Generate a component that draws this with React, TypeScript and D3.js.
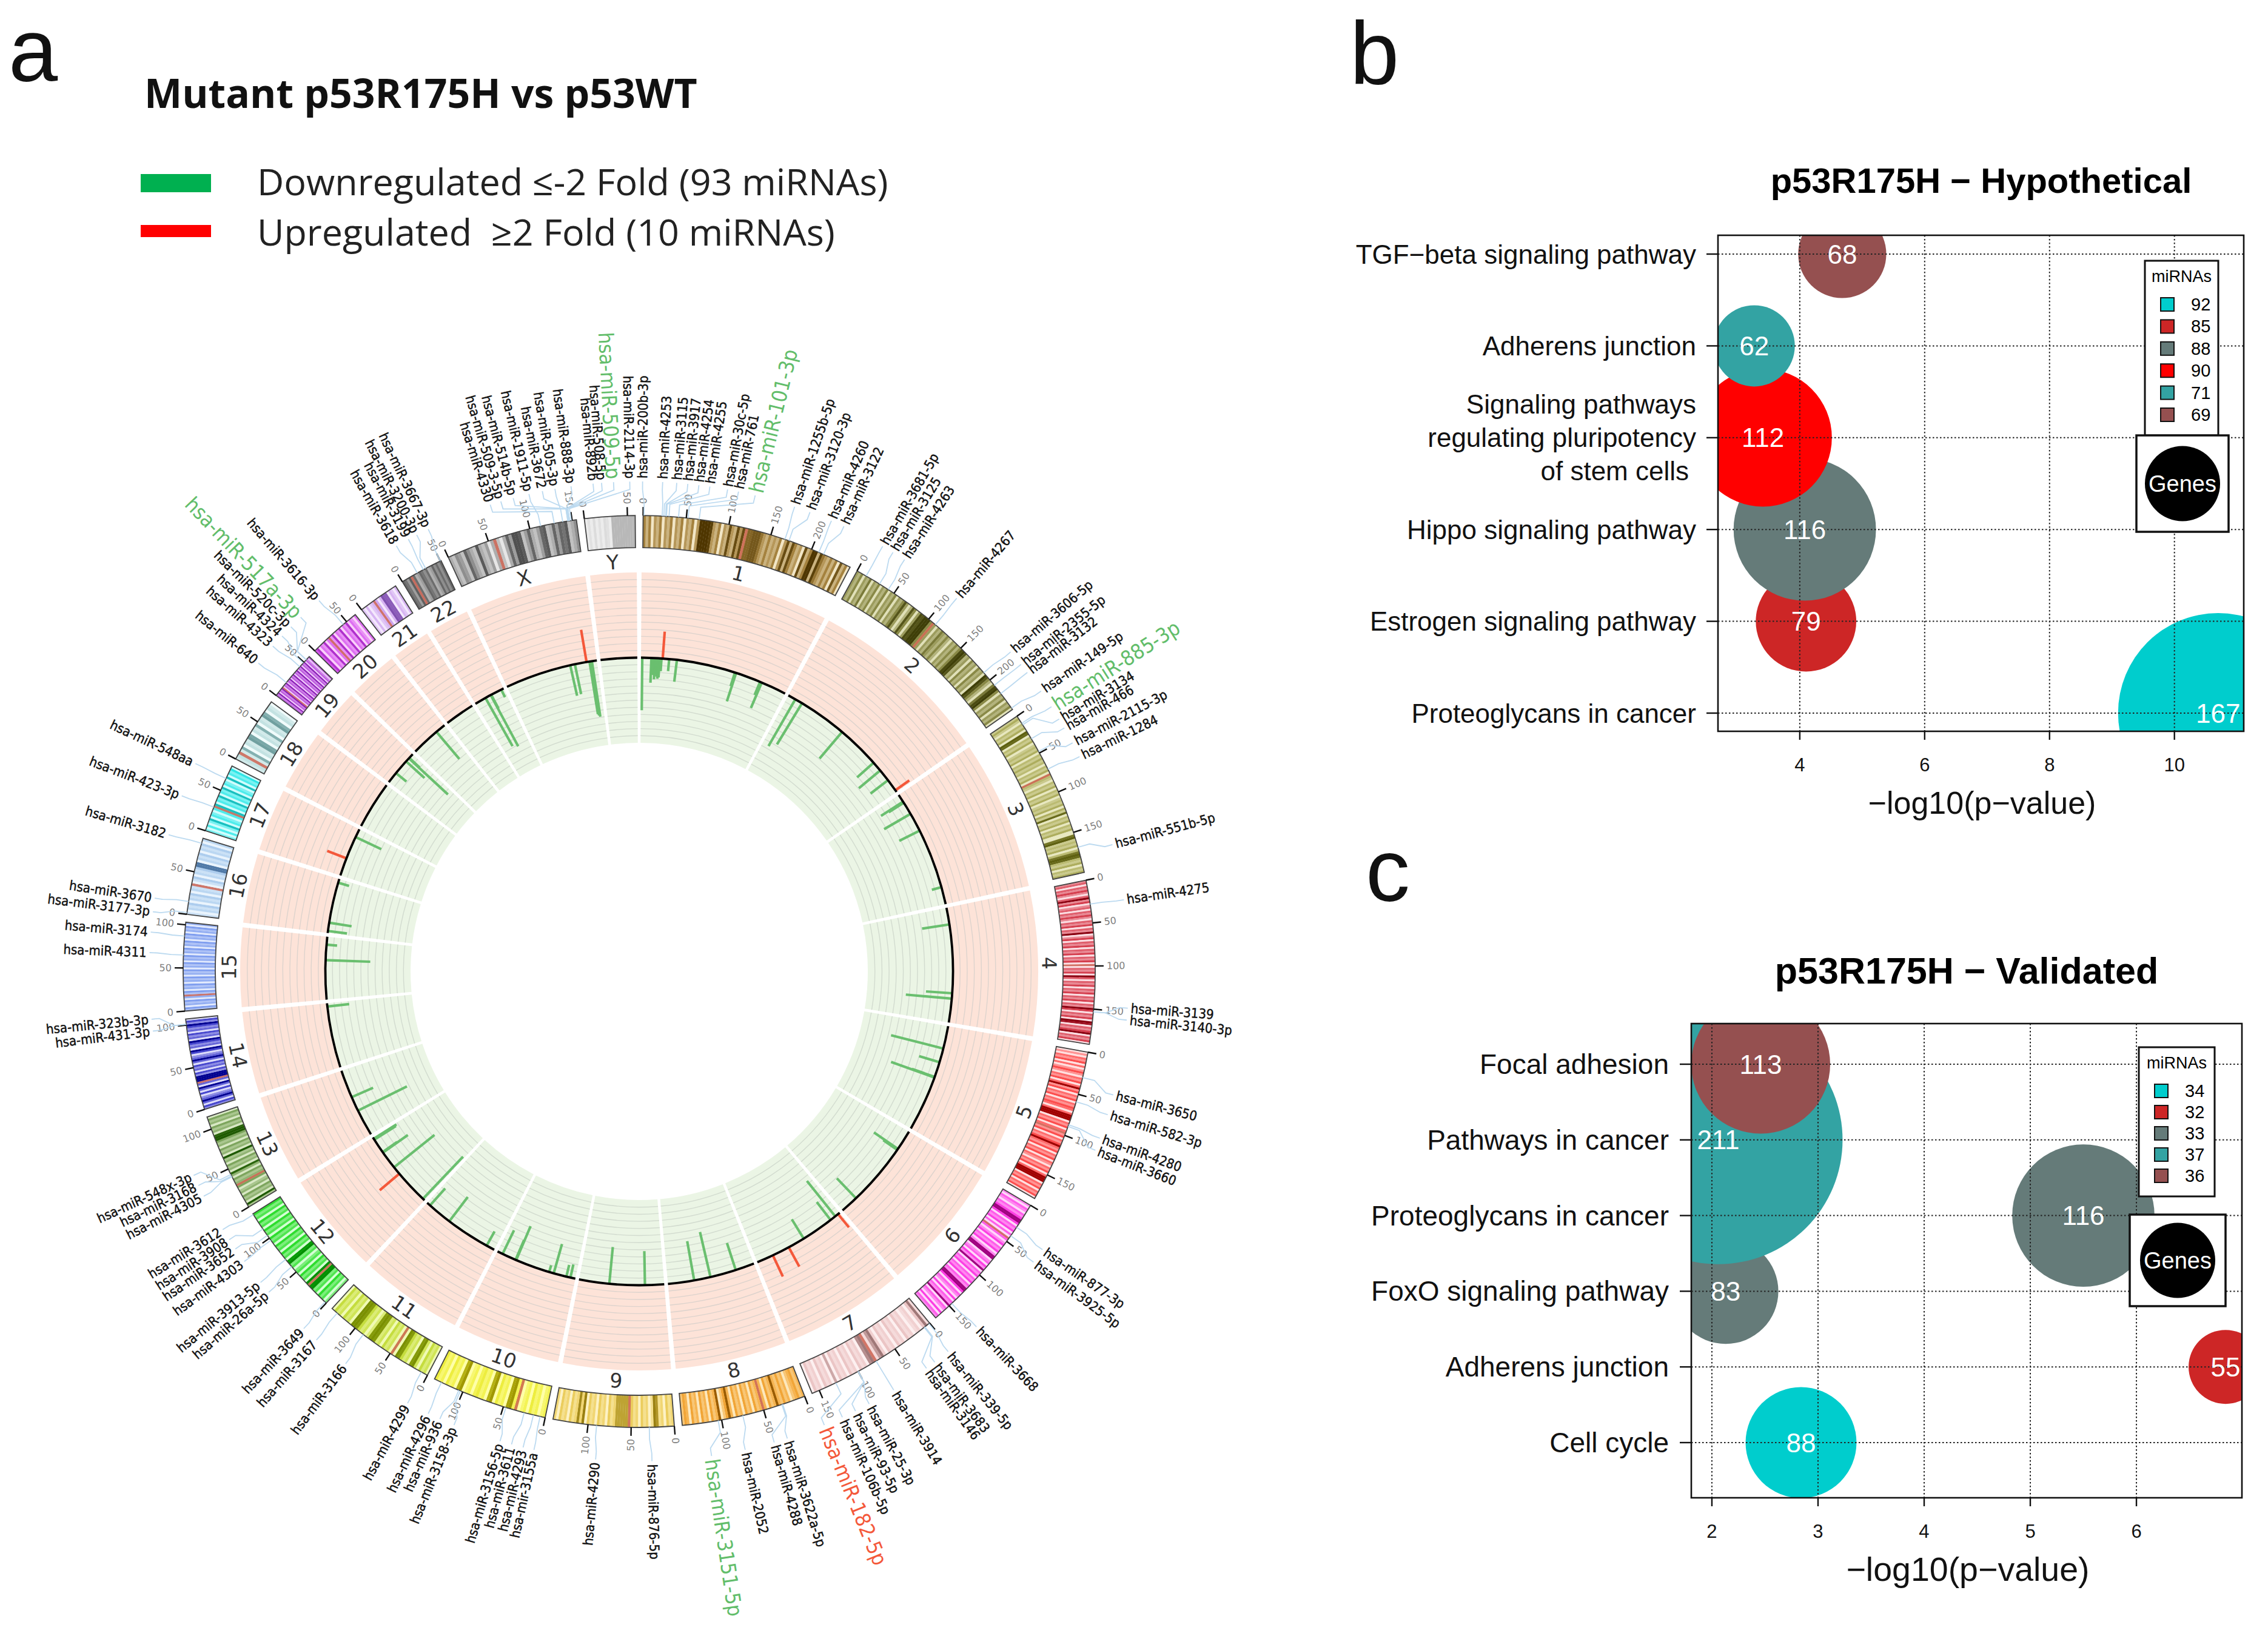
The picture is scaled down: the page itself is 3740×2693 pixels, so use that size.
import { useEffect, useRef } from "react";
import * as d3 from "d3";

const chromNames = ["1", "2", "3", "4", "5", "6", "7", "8", "9", "10", "11", "12", "13", "14", "15", "16", "17", "18", "19", "20", "21", "22", "X", "Y"];
const chromLengths = [249, 243, 198, 191, 181, 171, 159, 146, 141, 136, 135, 134, 115, 107, 103, 90, 81, 78, 59, 63, 48, 51, 155, 59];

// light, mid, dark shade of each ideogram
const chromColors = [
  ["#f2e6c6", "#a88540", "#4f3600"], ["#e0e0b8", "#8c8c48", "#3f3f08"], ["#e8e8c0", "#b0b060", "#5e6010"],
  ["#fbdde2", "#d84050", "#8a0010"], ["#ffe0e0", "#ff5050", "#a00000"], ["#ffd8fa", "#ff40e8", "#a00080"],
  ["#fdf0f0", "#eec8c8", "#a07878"], ["#fde8bc", "#f4a838", "#9a5c00"], ["#fdf2c4", "#eed060", "#9a8010"],
  ["#ffffa8", "#f0f040", "#a09800"], ["#f0faB4", "#c8e040", "#7a9000"], ["#d4ffd4", "#30e030", "#009000"],
  ["#d8e8c4", "#80a860", "#1e5a00"], ["#dcdcfa", "#4848d0", "#000090"], ["#e2eafd", "#80a0f0", "#3850c8"],
  ["#eaf4fd", "#b0d0f0", "#507aa8"], ["#d0fdfd", "#30e8e8", "#10b0b0"], ["#f0fbfb", "#b8dcdc", "#70a0a0"],
  ["#eec8fa", "#b040d8", "#7a10a8"], ["#fad0fa", "#d858f0", "#a020c0"], ["#f4e8fd", "#d0a8f0", "#8050b0"],
  ["#d4d4d4", "#909090", "#606060"], ["#e6e6e6", "#a0a0a0", "#505050"], ["#ececec", "#d8d8d8", "#b8b8b8"],
];

// cytoband shades read along each chromosome: 0 pale .. 9 dark, c centromere
const chromBands = [
  "31302130213021302130299998213021721727c5566642131213027173120713991842131306130",
  "2130214021302130213021372017302879993c20214213102131389712031203120973104893021302130",
  "131021309802130121302131202130c21021302130121303180213021300791213027982130213",
  "12021310291301202131021302190130213021302130c02130920213021302130219302130970213902130",
  "01021302013102130291302130213202999021302c13021392130213021021302999021302130",
  "102102139930213020c20130213019901203190213021302199302103021902103021",
  "19302102130213021302961c9702130213021305021302130",
  "21321021312921302c213021302130293109213021302130231",
  "21302179102130213c66666213021302130928213021302",
  "2102130210c29802130970213202109702130213",
  "021302980213890c021302189810213899021302130",
  "1021302199c9021302102198021302130213021302130213",
  "19021302103c2130280213021902130213998021302130",
  "13029210302902c9991302130292103902139021302139130",
  "13021302c1302130213021302130213021302130213021302",
  "102130213021c0130213990213021302",
  "10201702102c7021702170210702130",
  "12c17021980217021970210",
  "2170217c02170217021702170217021702102",
  "37021702c170217021702102",
  "102012c30298802102",
  "8629c71286371283738",
  "214317421821302c10273998137213781273768124",
  "0102010210999999999",
];

// chrom, position in Mb, signed fold value
const downregulated: [string, number, number][] = [
  ["1", 0.6, 7.4], ["1", 16, 3.5], ["1", 19, 2.4], ["1", 22, 3], ["1", 24, 2.3], ["1", 26, 2.6], ["1", 28, 2.9], ["1", 30, 2.7], ["1", 33, 1.8],
  ["1", 46, 1.7], ["1", 59, 3.1], ["1", 159, 2], ["1", 161, 4.2], ["1", 204, 2], ["1", 207, 3.9],
  ["2", 12, 7.6], ["2", 25, 6.8], ["2", 108, 4.9], ["2", 182, 3.1], ["2", 199, 3.9], ["2", 220, 3.1],
  ["3", 12, 3.7], ["3", 14, 2.5], ["3", 36, 4.3], ["3", 68, 3.2], ["3", 170, 1.4],
  ["4", 27, 3.9], ["4", 143, 3.7], ["4", 152, 6.5],
  ["5", 37, 7.6], ["5", 61, 3], ["5", 87, 3.4], ["5", 88, 6.5],
  ["6", 33, 4.1], ["6", 35, 2.4], ["6", 142, 3.9],
  ["7", 8, 6.4], ["7", 18, 3.2], ["7", 73, 3.2],
  ["8", 31, 4], ["8", 75, 6.5], ["8", 103, 5.6],
  ["9", 31, 4.8], ["9", 91, 5.2],
  ["10", 7, 1.9], ["10", 14, 1.7], ["10", 36, 4.3], ["10", 44, 1], ["10", 103, 5.2], ["10", 104, 3], ["10", 128, 3.7],
  ["11", 13, 2.3], ["11", 88, 4.3], ["11", 130, 3.2],
  ["12", 2, 8.2], ["12", 74, 7.3], ["12", 105, 4.3], ["12", 106, 2.5], ["12", 133, 3.8], ["12", 131, 3.6],
  ["13", 44, 7.7], ["13", 69, 3.3],
  ["14", 103, 3.1],
  ["15", 65, 6.3], ["15", 91, 1.5],
  ["16", 2, 2.7], ["16", 16, 3.2], ["16", 85, 1.6],
  ["17", 68, 4],
  ["19", 18, 1.9], ["19", 44, 3.5], ["19", 51, 7.5], ["19", 52, 2],
  ["20", 47, 5],
  ["22", 18, 7.8], ["22", 28, 8.2], ["22", 29, 2.2], ["22", 48, 1.2],
  ["X", 111, 4.4], ["X", 119, 4.3], ["X", 144, 7.5], ["X", 146, 7.7], ["X", 148, 7.9],
];

const upregulated: [string, number, number][] = [
  ["1", 35, 3.8], ["2", 241, 2.4], ["7", 2, 2.4], ["7", 102, 3.1], ["7", 132, 3.3], ["12", 60, 3.6], ["17", 29, 2.9], ["X", 139, 4.6],
];

const ringLevels = d3.range(-12, 13);
const tickStep = 50;

// miRNA name, chrom, position in Mb; highlighted ones are in the lists below
const miRNAs: [string, string, number][] = [
  ["hsa-miR-200b-3p", "1", 1], ["hsa-miR-4253", "1", 22], ["hsa-miR-3115", "1", 24], ["hsa-miR-3917", "1", 26], ["hsa-miR-4254", "1", 27], ["hsa-miR-4255", "1", 30], ["hsa-miR-30c-5p", "1", 41], ["hsa-miR-761", "1", 52], ["hsa-miR-101-3p", "1", 65], ["hsa-miR-1255b-5p", "1", 167], ["hsa-miR-3120-3p", "1", 172], ["hsa-miR-4260", "1", 209], ["hsa-miR-3122", "1", 215],
  ["hsa-miR-3681-5p", "2", 12], ["hsa-miR-3125", "2", 30], ["hsa-miR-4263", "2", 42], ["hsa-miR-4267", "2", 110], ["hsa-miR-3606-5p", "2", 189], ["hsa-miR-2355-5p", "2", 208], ["hsa-miR-3132", "2", 220], ["hsa-miR-149-5p", "2", 241],
  ["hsa-miR-885-3p", "3", 10], ["hsa-miR-3134", "3", 12], ["hsa-miR-466", "3", 31], ["hsa-miR-2115-3p", "3", 48], ["hsa-miR-1284", "3", 71], ["hsa-miR-551b-5p", "3", 168],
  ["hsa-miR-4275", "4", 28], ["hsa-miR-3139", "4", 153], ["hsa-miR-3140-3p", "4", 153],
  ["hsa-miR-3650", "5", 30], ["hsa-miR-582-3p", "5", 59], ["hsa-miR-4280", "5", 87], ["hsa-miR-3660", "5", 89],
  ["hsa-miR-877-3p", "6", 30], ["hsa-miR-3925-5p", "6", 42], ["hsa-miR-3668", "6", 146],
  ["hsa-miR-339-5p", "7", 1], ["hsa-miR-3683", "7", 7], ["hsa-miR-3146", "7", 8], ["hsa-miR-3914", "7", 76], ["hsa-miR-25-3p", "7", 100], ["hsa-miR-93-5p", "7", 100], ["hsa-miR-106b-5p", "7", 100], ["hsa-miR-182-5p", "7", 129],
  ["hsa-miR-3622a-5p", "8", 27], ["hsa-miR-4288", "8", 28], ["hsa-miR-2052", "8", 75], ["hsa-miR-3151-5p", "8", 104],
  ["hsa-miR-876-5p", "9", 29], ["hsa-miR-4290", "9", 90],
  ["hsa-mir-3155a", "10", 6], ["hsa-miR-4293", "10", 14], ["hsa-miR-3611", "10", 25], ["hsa-miR-3156-5p", "10", 47], ["hsa-miR-3158-3p", "10", 103], ["hsa-miR-936", "10", 105], ["hsa-miR-4296", "10", 127],
  ["hsa-miR-4299", "11", 8], ["hsa-miR-3166", "11", 88], ["hsa-miR-3167", "11", 127],
  ["hsa-miR-3649", "12", 2], ["hsa-miR-26a-5p", "12", 58], ["hsa-miR-3913-5p", "12", 69], ["hsa-miR-4303", "12", 97], ["hsa-miR-3652", "12", 104], ["hsa-miR-3908", "12", 113], ["hsa-miR-3612", "12", 133],
  ["hsa-miR-4305", "13", 40], ["hsa-miR-3168", "13", 41], ["hsa-miR-548x-3p", "13", 43],
  ["hsa-miR-431-3p", "14", 101], ["hsa-miR-323b-3p", "14", 101],
  ["hsa-miR-4311", "15", 65], ["hsa-miR-3174", "15", 87],
  ["hsa-miR-3177-3p", "16", 2], ["hsa-miR-3670", "16", 15], ["hsa-miR-3182", "16", 84],
  ["hsa-miR-423-3p", "17", 29], ["hsa-miR-548aa", "17", 65],
  ["hsa-miR-640", "19", 19], ["hsa-miR-4323", "19", 43], ["hsa-miR-4324", "19", 49], ["hsa-miR-520c-3p", "19", 54], ["hsa-miR-517a-3p", "19", 54],
  ["hsa-miR-3616-3p", "20", 45],
  ["hsa-miR-3618", "22", 20], ["hsa-miR-3199", "22", 28], ["hsa-miR-3200-3p", "22", 31], ["hsa-miR-3667-3p", "22", 50],
  ["hsa-miR-4330", "X", 129], ["hsa-miR-509-3-5p", "X", 147], ["hsa-miR-514b-5p", "X", 147], ["hsa-miR-1911-5p", "X", 113], ["hsa-miR-3672", "X", 146], ["hsa-miR-505-3p", "X", 139], ["hsa-miR-888-3p", "X", 145], ["hsa-miR-892b", "X", 145], ["hsa-miR-508-5p", "X", 146], ["hsa-miR-509-5p", "X", 147], ["hsa-miR-2114-3p", "X", 149],
];
const highlightedDown = ["hsa-miR-101-3p", "hsa-miR-885-3p", "hsa-miR-3151-5p", "hsa-miR-517a-3p", "hsa-miR-509-5p"];
const highlightedUp = ["hsa-miR-182-5p"];

// where each miRNA name sits after label spreading, same order as miRNAs (degrees clockwise from the top)
const labelDeg = [
  0.4, 2.75, 4.4, 5.7, 7, 8.3, 10.4, 11.7, 13.7, 18.5, 20.4, 23.1, 24.7,
  29.8, 31.2, 32.8, 40.4, 49.3, 51.2, 52.4, 55.1,
  57.3, 59, 60.2, 62.2, 64, 75,
  81.6, 94.3, 95.7,
  104.6, 107, 109.9, 111.4,
  124.6, 126.4, 136.5,
  140.9, 142.9, 144.1, 148.7, 152, 153.8, 155.5, 157.8,
  162.4, 164, 167.5, 171.5,
  178.5, 185.1,
  192.4, 193.7, 195.1, 196.5, 202.2, 204, 205.5,
  208.2, 216.8, 221.2,
  223.2, 229.1, 230.6, 233.7, 235.5, 236.8, 238.2,
  242.7, 244.1, 245.4,
  263, 264.4,
  272.2, 274.6,
  277, 278.6, 286.2,
  291, 295.1,
  309, 311.6, 313.2, 314.7, 316.3,
  319.2,
  330.3, 331.9, 333, 334.5,
  342.3, 343.6, 345.1, 347, 348.6, 350.1, 352, 354.6, 355.6, 357, 358.9,
];

// bubble panels
const hypoPathways = ["TGF\u2212beta signaling pathway", "Adherens junction", "Signaling pathways|regulating pluripotency|of stem cells ", "Hippo signaling pathway", "Estrogen signaling pathway", "Proteoglycans in cancer"];
const hypoLogP = [4.68, 3.27, 3.41, 4.08, 4.1, 10.7];
const hypoGenes = [68, 62, 112, 116, 79, 167];
const hypoColors = ["#955050", "#33a3a3", "#ff0000", "#657b79", "#cd2626", "#00cdcd"];
const hypoLegend = ["92", "85", "88", "90", "71", "69"];
const hypoLegendColors = ["#00cdcd", "#cd2626", "#657b79", "#ff0000", "#33a3a3", "#955050"];

const validPathways = ["Focal adhesion", "Pathways in cancer", "Proteoglycans in cancer", "FoxO signaling pathway", "Adherens junction", "Cell cycle"];
const validLogP = [2.46, 2.06, 5.5, 2.13, 6.84, 2.84];
const validGenes = [113, 211, 116, 83, 55, 88];
const validColors = ["#955050", "#33a3a3", "#657b79", "#657b79", "#cd2626", "#00cdcd"];
const validLegend = ["34", "32", "33", "37", "36"];
const validLegendColors = ["#00cdcd", "#cd2626", "#657b79", "#33a3a3", "#955050"];

const WIDTH = 3740;
const HEIGHT = 2693;
const sans = "'Liberation Sans', Arial, sans-serif";
const rad = Math.PI / 180;

function drawCircos(root: d3.Selection<SVGGElement, unknown, null, undefined>) {
  const cx = 1054;
  const cy = 1602;
  const gapDeg = 1;
  const perMb = (360 - gapDeg * chromNames.length) / d3.sum(chromLengths);
  const polar = (deg: number, r: number): [number, number] => [cx + r * Math.sin(deg * rad), cy - r * Math.cos(deg * rad)];

  let cursor = gapDeg / 2;
  const sectors = chromNames.map((name, i) => {
    const start = cursor;
    const end = start + chromLengths[i] * perMb;
    cursor = end + gapDeg;
    return { name, i, start, end, scale: d3.scaleLinear().domain([0, chromLengths[i]]).range([start, end]) };
  });
  const byName = new Map(sectors.map((s) => [s.name, s]));
  const pos = (chrom: string, mb: number) => byName.get(chrom)!.scale(mb);

  const level = d3.scaleLinear().domain([-12, 12]).range([377, 658]);
  const arc = d3.arc<any>();
  const sectorArc = (s: any, inner: number, outer: number, pad = 0.16) =>
    arc({ innerRadius: inner, outerRadius: outer, startAngle: (s.start - pad) * rad, endAngle: (s.end + pad) * rad });

  const g = root.append("g").attr("transform", `translate(${cx},${cy})`);

  // track backgrounds
  g.selectAll("path.pink").data(sectors).join("path").attr("d", (s) => sectorArc(s, level(0), level(12))).attr("fill", "#fde3d8");
  g.selectAll("path.green").data(sectors).join("path").attr("d", (s) => sectorArc(s, level(-12), level(0))).attr("fill", "#ebf5e5");

  sectors.forEach((s) => {
    g.selectAll(null).data(ringLevels.filter((v) => v !== 0 && Math.abs(v) !== 12)).join("path")
      .attr("d", (v) => sectorArc(s, level(v), level(v)))
      .attr("fill", "none")
      .attr("stroke", (v) => (v > 0 ? "#ddd3cd" : "#d2dbcf"))
      .attr("stroke-width", 1.4);
  });

  const bars = (rows: [string, number, number][], sign: number, color: string) =>
    g.selectAll(null).data(rows).join("line")
      .attr("x1", (d) => polar(pos(d[0], d[1]), level(0))[0] - cx)
      .attr("y1", (d) => polar(pos(d[0], d[1]), level(0))[1] - cy)
      .attr("x2", (d) => polar(pos(d[0], d[1]), level(sign * d[2]))[0] - cx)
      .attr("y2", (d) => polar(pos(d[0], d[1]), level(sign * d[2]))[1] - cy)
      .attr("stroke", color)
      .attr("stroke-width", 4.2);
  bars(downregulated, -1, "#6abf6f");
  bars(upregulated, 1, "#f4583a");

  g.selectAll("path.zero").data(sectors).join("path")
    .attr("d", (s) => sectorArc(s, level(0), level(0)))
    .attr("fill", "none").attr("stroke", "#000").attr("stroke-width", 3.8);

  // ideogram
  sectors.forEach((s) => {
    const [light, mid, dark] = chromColors[s.i];
    const shade = d3.piecewise(d3.interpolateRgb, [light, mid, dark]);
    const bands = chromBands[s.i].split("");
    const w = (s.end - s.start) / bands.length;
    g.selectAll(null).data(bands).join("path")
      .attr("d", (_, j) => arc({ innerRadius: 699, outerRadius: 752, startAngle: (s.start + j * w) * rad, endAngle: (s.start + (j + 1) * w + 0.02) * rad }))
      .attr("fill", (b) => (b === "c" ? d3.interpolateRgb(light, "#c0402b")(0.7) : shade(Math.pow(+b / 9, 0.6))));
    g.append("path").attr("d", sectorArc(s, 699, 752, 0)).attr("fill", "none").attr("stroke", "#444").attr("stroke-width", 1.8);
  });

  // position ticks
  const tickRows = sectors.flatMap((s) =>
    d3.range(0, chromLengths[s.i] + 1, tickStep).map((mb) => ({ deg: s.scale(mb), mb }))
  );
  g.selectAll("line.tick").data(tickRows).join("line")
    .attr("x1", (d) => polar(d.deg, 752)[0] - cx).attr("y1", (d) => polar(d.deg, 752)[1] - cy)
    .attr("x2", (d) => polar(d.deg, 766)[0] - cx).attr("y2", (d) => polar(d.deg, 766)[1] - cy)
    .attr("stroke", "#111").attr("stroke-width", 2.4);
  const radial = (deg: number, r: number) => {
    const flip = deg > 180;
    return `rotate(${deg}) translate(0,${-r}) rotate(${flip ? 90 : -90})`;
  };
  g.selectAll("text.tick").data(tickRows).join("text")
    .attr("transform", (d) => radial(d.deg, 771))
    .attr("text-anchor", (d) => (d.deg > 180 ? "end" : "start"))
    .attr("dominant-baseline", "central")
    .attr("font-family", "'DejaVu Sans', sans-serif").attr("font-size", 16).attr("fill", "#808080")
    .text((d) => d.mb);

  // chromosome names
  g.selectAll("text.chrom").data(sectors).join("text")
    .attr("transform", (s) => {
      const mid = (s.start + s.end) / 2;
      const [x, y] = polar(mid, 676);
      const flip = mid > 90 && mid < 270;
      return `translate(${x - cx},${y - cy}) rotate(${flip ? mid - 180 : mid})`;
    })
    .attr("text-anchor", "middle").attr("dominant-baseline", "central")
    .attr("font-family", "'DejaVu Sans', sans-serif").attr("font-size", 33).attr("fill", "#333")
    .text((s) => s.name);

  // miRNA connectors and names
  const connector = d3.line().curve(d3.curveLinear);
  const labelRows = miRNAs.map((m, i) => ({ name: m[0], deg: pos(m[1], m[2]), labelAt: labelDeg[i] }));
  g.selectAll("path.link").data(labelRows).join("path")
    .attr("d", (d) => connector([
      polar(d.deg, 752), polar(d.deg, 772), polar(d.labelAt, 795), polar(d.labelAt, 808),
    ].map(([x, y]) => [x - cx, y - cy] as [number, number])))
    .attr("fill", "none").attr("stroke", "#bcdaf0").attr("stroke-width", 1.8);
  g.selectAll("text.mir").data(labelRows).join("text")
    .attr("transform", (d) => radial(d.labelAt, 813))
    .attr("text-anchor", (d) => (d.labelAt > 180 ? "end" : "start"))
    .attr("dominant-baseline", "central")
    .attr("font-family", "'DejaVu Sans Condensed', 'DejaVu Sans', sans-serif")
    .attr("font-size", (d) => (highlightedDown.includes(d.name) || highlightedUp.includes(d.name) ? 34 : 22))
    .attr("fill", (d) => (highlightedDown.includes(d.name) ? "#62bd6a" : highlightedUp.includes(d.name) ? "#f4583a" : "#111"))
    .attr("stroke", (d) => (highlightedDown.includes(d.name) || highlightedUp.includes(d.name) ? "none" : "#111"))
    .attr("stroke-width", 0.45)
    .text((d) => d.name);
}

interface BubblePanel {
  title: string; titleX: number; titleY: number; titleSize: number;
  box: [number, number, number, number];
  xDomain: [number, number]; xTicks: number[];
  rows: string[]; rowsY: [number, number]; rowSize: number; axisSize: number;
  logP: number[]; genes: number[]; colors: string[];
  radius: d3.ScaleLinear<number, number>;
  labelX: number;
  legend: string[]; legendColors: string[];
  legendBox: [number, number, number, number]; legendStep: number;
  genesBox: [number, number, number, number];
  id: string;
}

function drawBubbles(root: d3.Selection<SVGGElement, unknown, null, undefined>, p: BubblePanel) {
  const [x0, y0, x1, y1] = p.box;
  const x = d3.scaleLinear().domain(p.xDomain).range([x0, x1]);
  const y = d3.scaleLinear().domain([0, p.rows.length - 1]).range(p.rowsY);
  const g = root.append("g").attr("font-family", sans);

  g.append("text").attr("x", p.titleX).attr("y", p.titleY).attr("text-anchor", "middle")
    .attr("font-size", p.titleSize).attr("font-weight", 700).text(p.title);

  g.append("clipPath").attr("id", p.id).append("rect").attr("x", x0).attr("y", y0).attr("width", x1 - x0).attr("height", y1 - y0);
  const plot = g.append("g").attr("clip-path", `url(#${p.id})`);
  const order = d3.range(p.genes.length).reverse();
  plot.selectAll("circle").data(order).join("circle")
    .attr("cx", (i) => x(p.logP[i])).attr("cy", (i) => y(i))
    .attr("r", (i) => p.radius(p.genes[i])).attr("fill", (i) => p.colors[i]);

  // dotted R grid sits on top of the bubbles
  const dotted = { stroke: "#222", "stroke-width": 2, "stroke-dasharray": "2.5 3.5" } as Record<string, any>;
  const grid = g.append("g");
  Object.entries(dotted).forEach(([k, v]) => grid.attr(k, v));
  grid.selectAll("line.h").data(p.rows).join("line")
    .attr("x1", x0).attr("x2", x1).attr("y1", (_, i) => y(i)).attr("y2", (_, i) => y(i));
  grid.selectAll("line.v").data(p.xTicks).join("line")
    .attr("x1", (d) => x(d)).attr("x2", (d) => x(d)).attr("y1", y0).attr("y2", y1);

  g.append("g").attr("clip-path", `url(#${p.id})`).selectAll("text").data(p.genes).join("text")
    .attr("x", (_, i) => x(p.logP[i])).attr("y", (_, i) => y(i))
    .attr("text-anchor", "middle").attr("dominant-baseline", "central")
    .attr("font-size", 44).attr("fill", "#fff").text((d) => d);

  g.append("rect").attr("x", x0).attr("y", y0).attr("width", x1 - x0).attr("height", y1 - y0)
    .attr("fill", "none").attr("stroke", "#111").attr("stroke-width", 2.6);

  // axes
  g.selectAll("line.ytick").data(p.rows).join("line")
    .attr("x1", x0 - 19).attr("x2", x0).attr("y1", (_, i) => y(i)).attr("y2", (_, i) => y(i))
    .attr("stroke", "#111").attr("stroke-width", 2.4);
  g.selectAll("line.xtick").data(p.xTicks).join("line")
    .attr("x1", (d) => x(d)).attr("x2", (d) => x(d)).attr("y1", y1).attr("y2", y1 + 14)
    .attr("stroke", "#111").attr("stroke-width", 2.4);
  g.selectAll("text.xtick").data(p.xTicks).join("text")
    .attr("x", (d) => x(d)).attr("y", y1 + 55).attr("dominant-baseline", "central")
    .attr("text-anchor", "middle").attr("font-size", 31).attr("fill", "#111").text((d) => d);
  g.append("text").attr("x", (x0 + x1) / 2 + 2).attr("y", y1 + 118).attr("dominant-baseline", "central")
    .attr("text-anchor", "middle").attr("font-size", p.axisSize).attr("fill", "#111").text("\u2212log10(p\u2212value)");

  p.rows.forEach((label, i) => {
    const lines = label.split("|");
    lines.forEach((line, j) => {
      const trailing = line.endsWith(" ") ? 12 : 0;
      g.append("text").attr("x", p.labelX - trailing).attr("y", y(i) + (j - (lines.length - 1) / 2) * 55)
        .attr("text-anchor", "end").attr("dominant-baseline", "central")
        .attr("font-size", p.rowSize).attr("fill", "#111").text(line.trim());
    });
  });

  // miRNA legend
  const [lx0, ly0, lx1, ly1] = p.legendBox;
  g.append("rect").attr("x", lx0).attr("y", ly0).attr("width", lx1 - lx0).attr("height", ly1 - ly0)
    .attr("fill", "#fff").attr("stroke", "#111").attr("stroke-width", 3);
  g.append("text").attr("x", (lx0 + lx1) / 2).attr("y", ly0 + 26).attr("text-anchor", "middle")
    .attr("dominant-baseline", "central").attr("font-size", 27).text("miRNAs");
  const keyY = (i: number) => ly0 + 72 + i * p.legendStep;
  g.selectAll("rect.key").data(p.legendColors).join("rect")
    .attr("x", lx0 + 26).attr("y", (_, i) => keyY(i) - 11).attr("width", 22).attr("height", 22)
    .attr("fill", (d) => d).attr("stroke", "#111").attr("stroke-width", 2);
  g.selectAll("text.key").data(p.legend).join("text")
    .attr("x", lx0 + 76).attr("y", (_, i) => keyY(i)).attr("dominant-baseline", "central")
    .attr("font-size", 29).text((d) => d);

  const [gx0, gy0, gx1, gy1] = p.genesBox;
  g.append("rect").attr("x", gx0).attr("y", gy0).attr("width", gx1 - gx0).attr("height", gy1 - gy0)
    .attr("fill", "#fff").attr("stroke", "#111").attr("stroke-width", 3.5);
  g.append("circle").attr("cx", (gx0 + gx1) / 2).attr("cy", (gy0 + gy1) / 2).attr("r", 62).attr("fill", "#000");
  g.append("text").attr("x", (gx0 + gx1) / 2).attr("y", (gy0 + gy1) / 2).attr("text-anchor", "middle")
    .attr("dominant-baseline", "central").attr("font-size", 38).attr("fill", "#fff").text("Genes");
}

export default function App() {
  const svgRef = useRef<SVGSVGElement>(null);

  useEffect(() => {
    const svg = svgRef.current;
    if (!svg) return;
    d3.select(svg).selectAll("*").remove();
    const root = d3.select(svg).append("g") as any;

    root.append("rect").attr("width", WIDTH).attr("height", HEIGHT).attr("fill", "#fff");

    const letters: [string, number, number][] = [["a", 14, 134], ["b", 2226, 138], ["c", 2252, 1486]];
    root.selectAll("text.letter").data(letters).join("text")
      .attr("x", (d: any) => d[1]).attr("y", (d: any) => d[2])
      .attr("font-family", sans).attr("font-size", 146).attr("fill", "#111")
      .text((d: any) => d[0]);

    root.append("text").attr("x", 238).attr("y", 178).attr("font-family", "'Open Sans', sans-serif")
      .attr("font-size", 66).attr("font-weight", 700).attr("fill", "#111").text("Mutant p53R175H vs p53WT");

    const keys: [string, string, number, number, number][] = [
      ["#00b050", "Downregulated \u2264-2 Fold (93 miRNAs)", 302, 30, 322],
      ["#ff0000", "Upregulated  \u22652 Fold (10 miRNAs)", 381, 20, 405],
    ];
    keys.forEach(([color, label, ky, thick, base]) => {
      root.append("rect").attr("x", 232).attr("y", ky - thick / 2).attr("width", 116).attr("height", thick).attr("fill", color);
      root.append("text").attr("x", 424).attr("y", base).attr("xml:space", "preserve")
        .attr("font-family", "'Open Sans', sans-serif").attr("font-size", 61).attr("fill", "#222").text(label);
    });

    drawCircos(root);

    drawBubbles(root, {
      id: "clip-b", title: "p53R175H \u2212 Hypothetical", titleX: 3267, titleY: 318, titleSize: 58,
      box: [2833, 388, 3700, 1206], xDomain: [2.69, 11.11], xTicks: [4, 6, 8, 10],
      rows: hypoPathways, rowsY: [419, 1176], rowSize: 44, axisSize: 52, logP: hypoLogP, genes: hypoGenes, colors: hypoColors,
      radius: d3.scaleLinear().domain([62, 167]).range([67, 165]), labelX: 2797,
      legend: hypoLegend, legendColors: hypoLegendColors, legendBox: [3537, 430, 3658, 718], legendStep: 36.4,
      genesBox: [3523, 718, 3675, 877],
    });
    drawBubbles(root, {
      id: "clip-c", title: "p53R175H \u2212 Validated", titleX: 3243, titleY: 1622, titleSize: 61,
      box: [2789, 1688, 3697, 2470], xDomain: [1.806, 6.994], xTicks: [2, 3, 4, 5, 6],
      rows: validPathways, rowsY: [1755, 2379], rowSize: 46, axisSize: 55.5, logP: validLogP, genes: validGenes, colors: validColors,
      radius: d3.scaleLinear().domain([55, 211]).range([61, 205]), labelX: 2752,
      legend: validLegend, legendColors: validLegendColors, legendBox: [3527, 1727, 3652, 1973], legendStep: 35,
      genesBox: [3512, 2003, 3670, 2154],
    });
  }, []);

  return <svg ref={svgRef} width={WIDTH} height={HEIGHT} viewBox={`0 0 ${WIDTH} ${HEIGHT}`} style={{ position: "absolute", left: 0, top: 0, display: "block" }} />;
}
